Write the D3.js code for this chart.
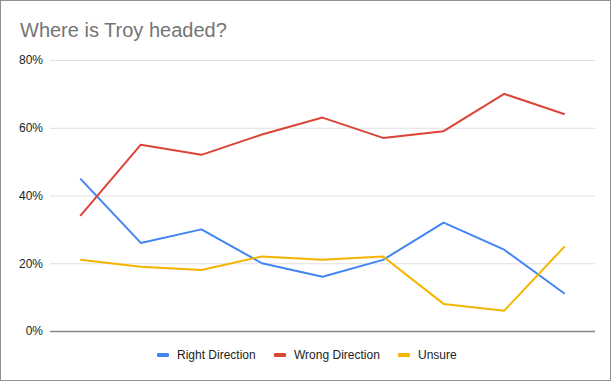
<!DOCTYPE html>
<html>
<head>
<meta charset="utf-8">
<script src="https://cdn.jsdelivr.net/npm/d3@7"></script>
<style>
  html, body { margin: 0; padding: 0; background: #fff; }
  svg { display: block; font-family: Arial, "Liberation Sans", sans-serif; }
</style>
</head>
<body>
<div id="chart"></div>
<script>
// data (percent)
const periods = ['1', '2', '3', '4', '5', '6', '7', '8', '9']
const rightDirection = [45, 26, 30, 20, 16, 21, 32, 24, 11]
const wrongDirection = [34, 55, 52, 58, 63, 57, 59, 70, 64]
const unsure = [21, 19, 18, 22, 21, 22, 8, 6, 25]
const yTicks = [0, 20, 40, 60, 80]

const series = [
  { name: 'Right Direction', values: rightDirection, color: '#4285f4' },
  { name: 'Wrong Direction', values: wrongDirection, color: '#db4437' },
  { name: 'Unsure', values: unsure, color: '#f4b400' }
]

const width = 615
const height = 383
const margin = { top: 60, right: 20, bottom: 52, left: 50 }

const svg = d3.select('#chart')
  .append('svg')
  .attr('width', width)
  .attr('height', height)

// outer frame
svg.append('rect')
  .attr('x', 0.5)
  .attr('y', 0.5)
  .attr('width', 610)
  .attr('height', 380)
  .attr('fill', '#fff')
  .attr('stroke', '#8f8f8f')

svg.append('text')
  .attr('x', 20)
  .attr('y', 37)
  .attr('fill', '#757575')
  .style('font-size', '20px')
  .text('Where is Troy headed?')

const x = d3.scalePoint()
  .domain(periods)
  .range([margin.left, width - margin.right])
  .padding(0.5)

const y = d3.scaleLinear()
  .domain([0, 80])
  .range([height - margin.bottom, margin.top])

// Y grid + labels
const yAxis = g => g
  .attr('transform', `translate(${margin.left},0)`)
  .call(
    d3.axisLeft(y)
      .tickValues(yTicks)
      .tickFormat(d => d + '%')
      .tickSize(-(width - margin.left - margin.right))
      .tickPadding(7)
  )
  .call(g => g.select('.domain').remove())
  .call(g => g.selectAll('line')
    .attr('stroke', d => d === 0 ? '#888' : '#e0e0e0')
    .attr('stroke-width', d => d === 0 ? 1.3 : 1))
  .call(g => g.selectAll('text')
    .attr('fill', '#222')
    .style('font-size', '12px')
    .style('font-family', 'Arial, "Liberation Sans", sans-serif'))

svg.append('g').attr('class', 'y').call(yAxis)

const line = d3.line()
  .x((d, i) => x(periods[i]))
  .y(d => y(d))

svg.append('g')
  .attr('class', 'lines')
  .selectAll('path')
  .data(series)
  .join('path')
  .attr('d', d => line(d.values))
  .attr('fill', 'none')
  .attr('stroke', d => d.color)
  .attr('stroke-width', 2)
  .attr('stroke-linejoin', 'round')

// legend
const legendX = [157, 274, 398]
const legend = svg.append('g')
  .attr('class', 'legend')
  .selectAll('g')
  .data(series)
  .join('g')
  .attr('transform', (d, i) => `translate(${legendX[i]},355)`)

legend.append('rect')
  .attr('x', 0)
  .attr('y', -2)
  .attr('width', 12)
  .attr('height', 4)
  .attr('rx', 1)
  .attr('fill', d => d.color)

legend.append('text')
  .attr('x', 20)
  .attr('dy', '0.35em')
  .attr('fill', '#222')
  .style('font-size', '12px')
  .text(d => d.name)
</script>
</body>
</html>
